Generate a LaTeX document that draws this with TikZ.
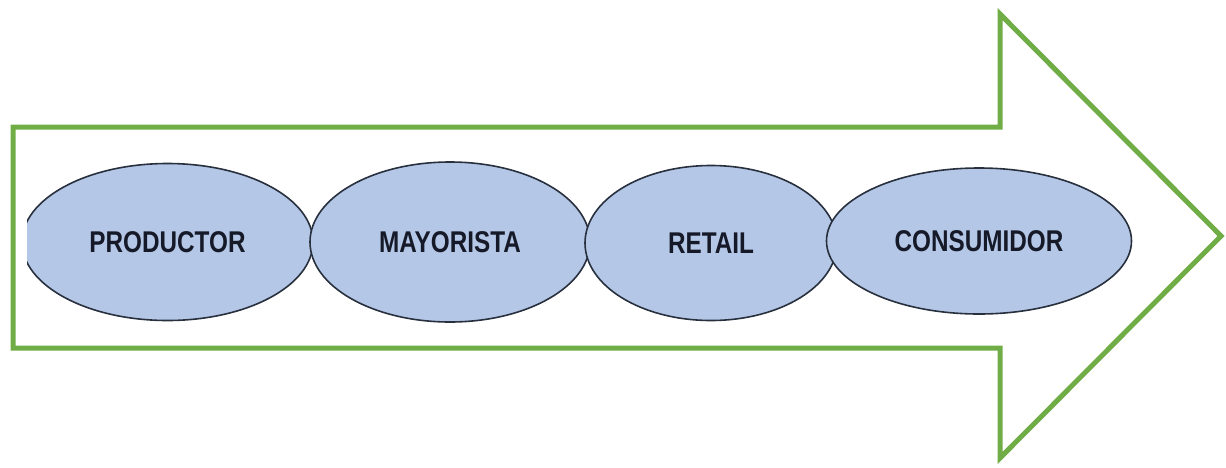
\documentclass[tikz,border=0pt]{standalone}
\usepackage{fontspec}
\usetikzlibrary{shapes.geometric}
\newfontfamily\narrowbold[FakeStretch=0.81]{Liberation Sans Bold}
\definecolor{arrowgreen}{RGB}{112,173,71}
\definecolor{ovalfill}{RGB}{180,199,231}
\definecolor{ovaldraw}{RGB}{40,48,62}
\definecolor{labelink}{RGB}{22,26,40}
\tikzset{
  oval/.style={ellipse, draw=ovaldraw, line width=1.6pt, fill=ovalfill, inner sep=0pt,
    font=\narrowbold\fontsize{30}{32}\selectfont, text=labelink},
  bigarrow/.style={draw=arrowgreen, line width=5pt, line join=miter}
}
\begin{document}
\begin{tikzpicture}[x=1pt,y=-1pt]
\useasboundingbox (0,0) rectangle (1226,467);
\draw[bigarrow] (13,127) -- (1000,127) -- (1000,14) -- (1221,236) -- (1000,458) -- (1000,348) -- (13,348) -- cycle;
\begin{scope}
\clip (27,0) rectangle (1226,467);
\node[oval, minimum width=291pt, minimum height=157pt] (prod) at (167.5,242) {PRODUCTOR};
\end{scope}
\node[oval, minimum width=280pt, minimum height=160pt] (may) at (450,242) {MAYORISTA};
\node[oval, minimum width=252pt, minimum height=155pt] (ret) at (711,243) {RETAIL};
\node[oval, minimum width=305pt, minimum height=146pt] (con) at (979,241) {CONSUMIDOR};
\end{tikzpicture}
\end{document}
